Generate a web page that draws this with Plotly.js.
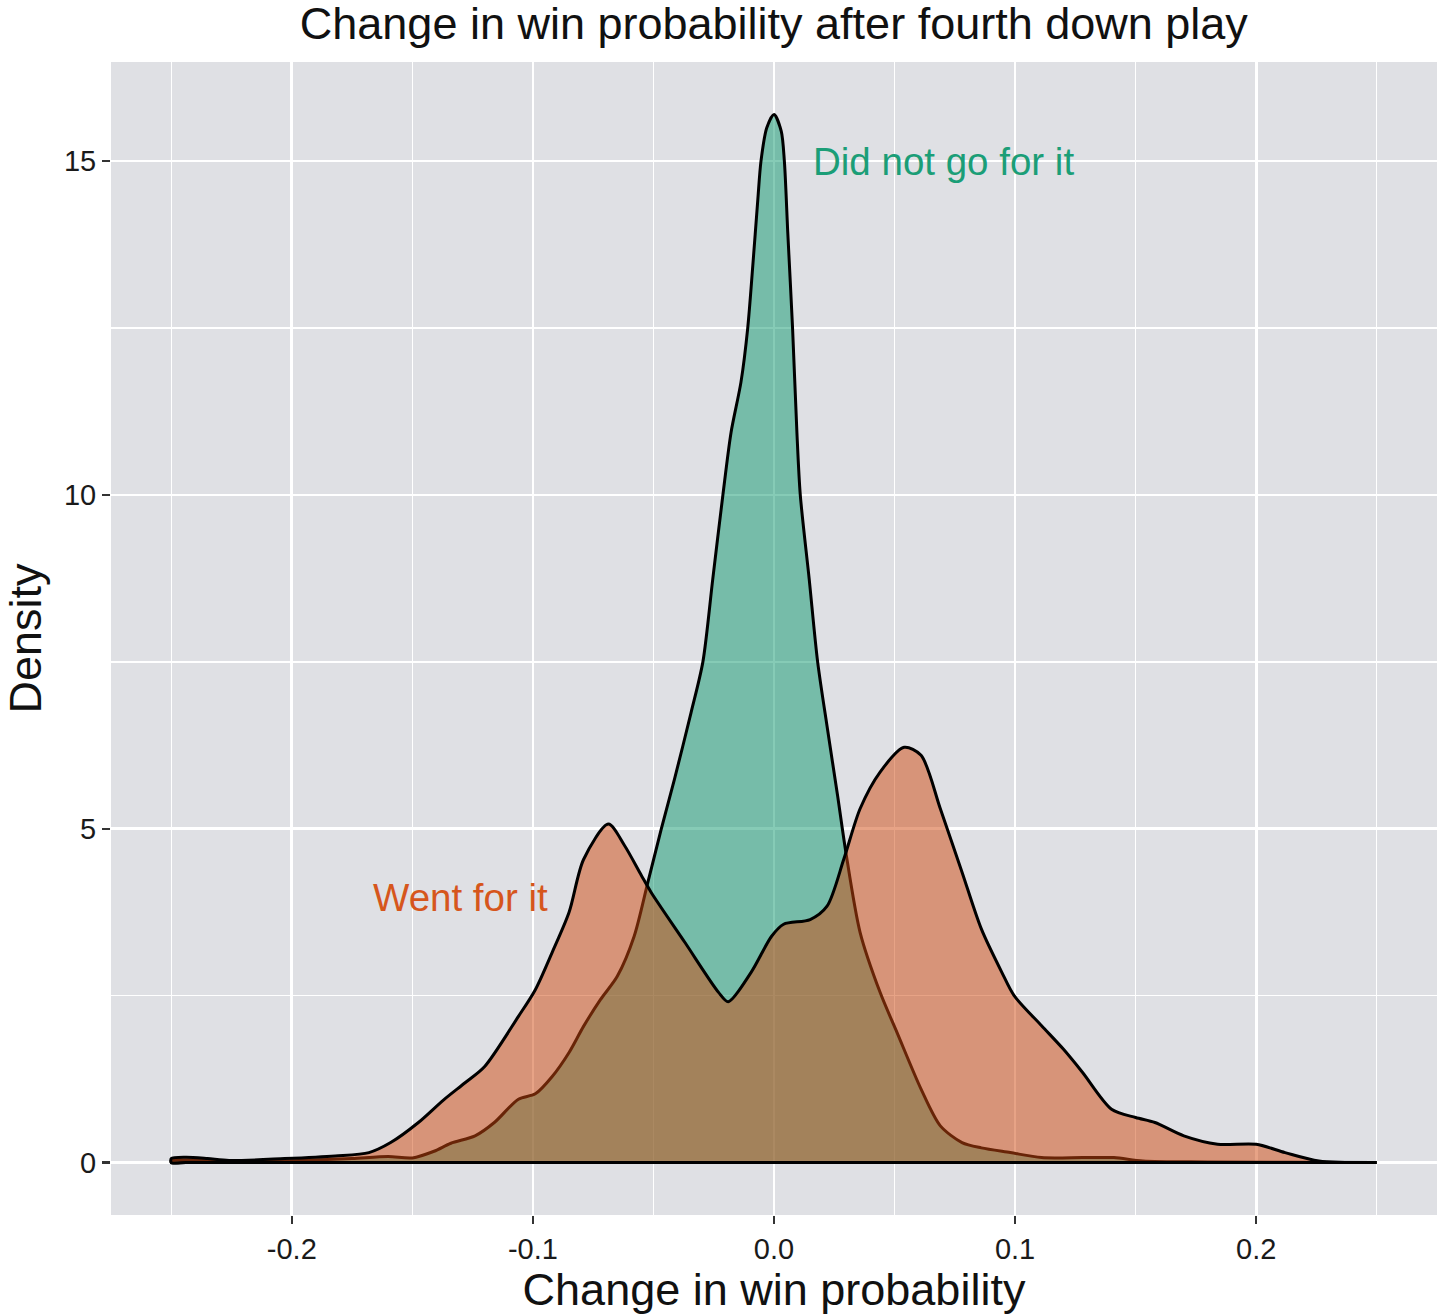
<!DOCTYPE html>
<html>
<head>
<meta charset="utf-8">
<script src="https://cdn.plot.ly/plotly-3.0.1.min.js"></script>
<style>html,body{margin:0;padding:0;background:#fff;}#chart{width:1437px;height:1315px;}</style>
</head>
<body>
<div id="chart"></div>
<script>
// "Did not go for it" density
const notGoX = [-0.25,-0.244,-0.23,-0.21,-0.19,-0.175,-0.16,-0.15,-0.141,-0.134,-0.124,-0.116,-0.106,-0.099,-0.092,-0.085,-0.079,-0.072,-0.065,-0.058,-0.0523,-0.0468,-0.0413,-0.0344,-0.0295,-0.0254,-0.0212,-0.0178,-0.0137,-0.0109,-0.0088,-0.0067,-0.0054,-0.003,0,0.003,0.0043,0.0057,0.0077,0.0095,0.0109,0.0146,0.0181,0.0222,0.0264,0.0298,0.0357,0.044,0.051,0.061,0.069,0.078,0.086,0.098,0.111,0.128,0.141,0.153,0.18,0.25];
const notGoY = [0.03,0.04,0.02,0.02,0.04,0.06,0.09,0.07,0.17,0.29,0.40,0.6,0.95,1.03,1.29,1.65,2.04,2.44,2.79,3.39,4.2,4.99,5.74,6.74,7.5,8.74,10.0,10.94,11.69,12.5,13.43,14.43,15.0,15.5,15.7,15.45,15.0,13.94,12.5,10.94,10.0,8.74,7.5,6.49,5.49,4.65,3.45,2.55,1.95,1.1,0.55,0.3,0.22,0.15,0.075,0.075,0.075,0.025,0.01,0.0];
// "Went for it" density
const wentX = [-0.25,-0.244,-0.235,-0.226,-0.203,-0.182,-0.168,-0.159,-0.1475,-0.137,-0.128,-0.12,-0.106,-0.099,-0.092,-0.085,-0.079,-0.0687,-0.062,-0.055,-0.051,-0.037,-0.023,-0.019,-0.0095,-0.001,0.004,0.015,0.022,0.029,0.0357,0.044,0.054,0.061,0.069,0.078,0.086,0.0945,0.0996,0.111,0.12,0.128,0.14,0.15,0.158,0.17,0.184,0.2,0.212,0.226,0.25];
const wentY = [0.06,0.08,0.06,0.03,0.06,0.10,0.15,0.30,0.6,0.94,1.2,1.44,2.19,2.59,3.15,3.75,4.54,5.07,4.75,4.3,4.05,3.3,2.55,2.41,2.85,3.39,3.57,3.64,3.84,4.55,5.3,5.85,6.22,6.1,5.3,4.35,3.5,2.85,2.5,2.05,1.7,1.35,0.8,0.675,0.6,0.4,0.275,0.275,0.15,0.025,0.0];

const xTicks = [-0.2,-0.1,0.0,0.1,0.2];
const xTickText = ['-0.2','-0.1','0.0','0.1','0.2'];
const yTicks = [0,5,10,15];
const yTickText = ['0','5','10','15'];

const labelNotGo = 'Did not go for it';
const labelWent = 'Went for it';
const titleText = 'Change in win probability after fourth down play';
const xTitle = 'Change in win probability';
const yTitle = 'Density';

// Closed outline: curve, then back along the baseline (y = 0) through the same x values
function closedPolygon(xs, ys) {
  const back = xs.slice().reverse();
  return {
    x: [xs[0]].concat(xs, back),
    y: [0].concat(ys, back.map(() => 0))
  };
}

const pNot = closedPolygon(notGoX, notGoY);
const pWent = closedPolygon(wentX, wentY);

const FONT = '"Liberation Sans", Arial, Helvetica, sans-serif';

const traces = [
  {
    type: 'scatter', mode: 'lines', x: pNot.x, y: pNot.y,
    fill: 'toself', fillcolor: 'rgba(14,151,109,0.5)',
    line: {color: '#000', width: 3, shape: 'spline', smoothing: 0.8}, name: labelNotGo, hoverinfo: 'skip'
  },
  {
    type: 'scatter', mode: 'lines', x: pWent.x, y: pWent.y,
    fill: 'toself', fillcolor: 'rgba(208,71,13,0.5)',
    line: {color: '#000', width: 3, shape: 'spline', smoothing: 0.8}, name: labelWent, hoverinfo: 'skip'
  }
];

const layout = {
  width: 1437, height: 1315,
  margin: {l: 111, r: 0, t: 62, b: 100},
  paper_bgcolor: '#ffffff',
  plot_bgcolor: '#dfe0e4',
  showlegend: false,
  font: {family: FONT, color: '#1a1a1a'},
  title: {
    text: titleText,
    font: {family: FONT, size: 45, color: '#111'},
    x: 0.5385, xref: 'container', xanchor: 'center',
    y: 0.982, yref: 'container', yanchor: 'middle'
  },
  xaxis: {
    range: [-0.275, 0.275],
    tickvals: xTicks, ticktext: xTickText,
    ticks: 'outside', ticklen: 8, tickwidth: 2.5, tickcolor: '#333',
    tickfont: {family: FONT, size: 29, color: '#1a1a1a'},
    showgrid: true, gridcolor: '#ffffff', gridwidth: 2.7,
    minor: {tickvals: [-0.25,-0.15,-0.05,0.05,0.15,0.25], showgrid: true, gridcolor: '#ffffff', gridwidth: 1.4, ticks: ''},
    zeroline: false, showline: false,
    title: {text: xTitle, font: {family: FONT, size: 45, color: '#111'}, standoff: 8}
  },
  yaxis: {
    range: [-0.785, 16.485],
    tickvals: yTicks, ticktext: yTickText,
    ticks: 'outside', ticklen: 8, tickwidth: 2.5, tickcolor: '#333',
    tickfont: {family: FONT, size: 29, color: '#1a1a1a'},
    showgrid: true, gridcolor: '#ffffff', gridwidth: 2.7,
    minor: {tickvals: [2.5,7.5,12.5], showgrid: true, gridcolor: '#ffffff', gridwidth: 1.4, ticks: ''},
    zeroline: false, showline: false,
    title: {text: yTitle, font: {family: FONT, size: 45, color: '#111'}, standoff: 17}
  },
  annotations: [
    {x: 0.0702, y: 15.0, xref: 'x', yref: 'y', text: labelNotGo, showarrow: false,
     xanchor: 'center', yanchor: 'middle', font: {family: FONT, size: 38.5, color: '#1b9e77'}},
    {x: -0.130, y: 3.97, xref: 'x', yref: 'y', text: labelWent, showarrow: false,
     xanchor: 'center', yanchor: 'middle', font: {family: FONT, size: 38.5, color: '#d6561c'}}
  ]
};

Plotly.newPlot('chart', traces, layout, {displayModeBar: false, staticPlot: true});
</script>
</body>
</html>
